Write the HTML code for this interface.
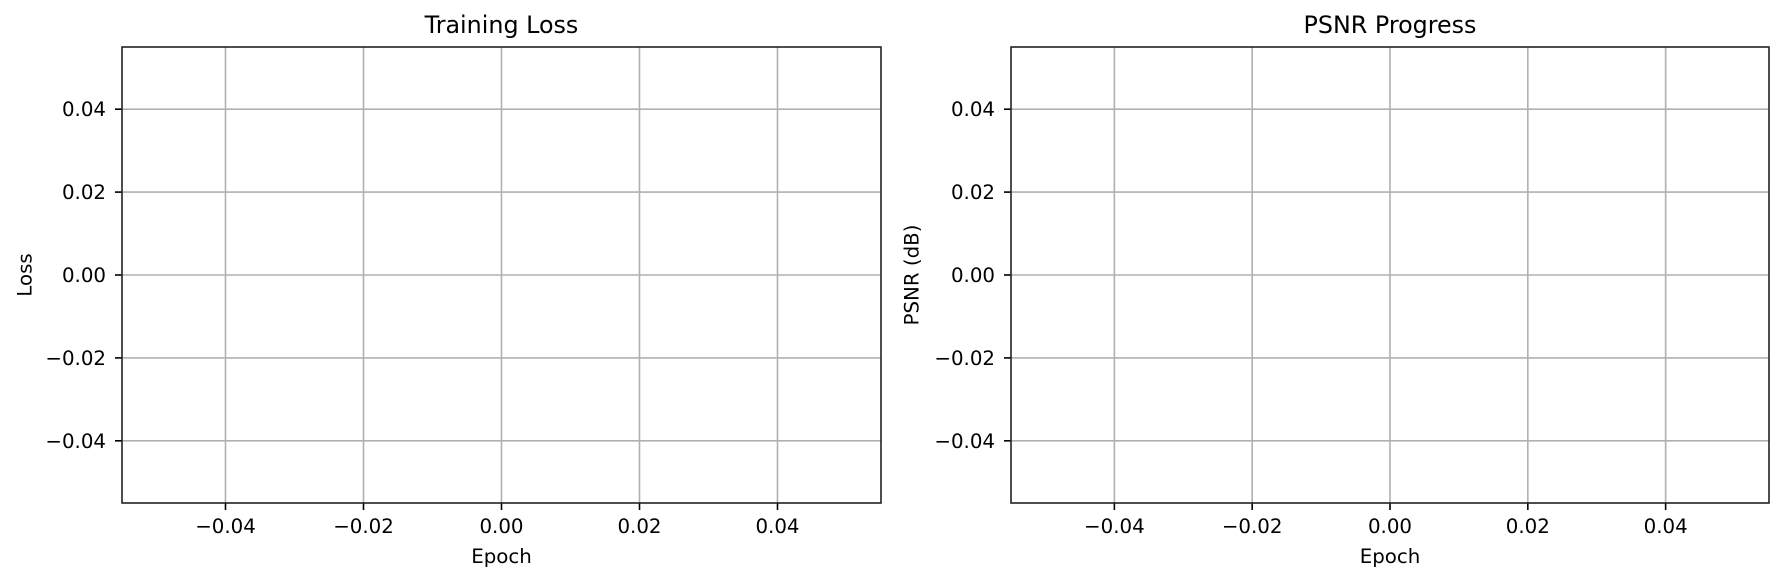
<!DOCTYPE html>
<html><head><meta charset="utf-8"><style>
html,body{margin:0;padding:0;background:#fff;}
svg{display:block;font-family:"DejaVu Sans","Liberation Sans",sans-serif;}
</style></head><body>
<svg id="fig" width="1784" height="581" viewBox="0 0 1784 581" xmlns="http://www.w3.org/2000/svg"></svg>
<script>
const xTicks = [-0.04, -0.02, 0.00, 0.02, 0.04];
const yTicks = [-0.04, -0.02, 0.00, 0.02, 0.04];
const xDomain = [-0.055, 0.055];
const yDomain = [-0.055, 0.055];
const panelTitles = ["Training Loss", "PSNR Progress"];
const panelYLabels = ["Loss", "PSNR (dB)"];
const panelXLabels = ["Epoch", "Epoch"];
const panelNames = ["loss", "psnr"];

const NS = "http://www.w3.org/2000/svg";
const svg = document.getElementById('fig');
const panels = [{l:122,r:881,t:47,b:503,yl:25},{l:1011,r:1769,t:47,b:503,yl:912}];
function mk(tag, attrs, parent){const e=document.createElementNS(NS,tag);for(const k in attrs)e.setAttribute(k,attrs[k]);(parent||svg).appendChild(e);return e;}
function fmt(v){const s=Math.abs(v).toFixed(2);return (v<-1e-9?'\u2212':'')+s;}

panels.forEach((p,i)=>{
  const g=mk('g',{});
  
  
  const sx=v=>p.l+(v-xDomain[0])/(xDomain[1]-xDomain[0])*(p.r-p.l);
  const sy=v=>p.b-(v-yDomain[0])/(yDomain[1]-yDomain[0])*(p.b-p.t);
  xTicks.forEach(v=>{
    const x=sx(v);
    const gl=mk('line',{x1:x,x2:x,y1:p.t,y2:p.b,stroke:'#b0b0b0','stroke-width':1.6},g);
    
    
    mk('line',{x1:x,x2:x,y1:p.b,y2:p.b+7,stroke:'#000','stroke-width':1.6},g);
    const t=mk('text',{x:x,y:p.b+30,'text-anchor':'middle','font-size':19.8,fill:'#000'},g);
    t.textContent=fmt(v);
    
    
  });
  yTicks.forEach(v=>{
    const y=sy(v);
    const gl=mk('line',{x1:p.l,x2:p.r,y1:y,y2:y,stroke:'#b0b0b0','stroke-width':1.6},g);
    
    
    mk('line',{x1:p.l-7,x2:p.l,y1:y,y2:y,stroke:'#000','stroke-width':1.6},g);
    const t=mk('text',{x:p.l-16,y:y+7,'text-anchor':'end','font-size':19.8,fill:'#000'},g);
    t.textContent=fmt(v);
    
    
  });
  const fr=mk('rect',{x:p.l,y:p.t,width:p.r-p.l,height:p.b-p.t,fill:'none',stroke:'#222','stroke-width':1.6},g);
  
  
  const cx=(p.l+p.r)/2;
  const tt=mk('text',{x:cx,y:33,'text-anchor':'middle','font-size':23.8,fill:'#000'},g);
  tt.textContent=panelTitles[i];
  
  
  const xl=mk('text',{x:cx,y:563,'text-anchor':'middle','font-size':19.8,fill:'#000'},g);
  xl.textContent=panelXLabels[i];
  
  
  const cy=(p.t+p.b)/2;
  const yl=mk('text',{x:p.yl,y:cy,'text-anchor':'middle','dominant-baseline':'central','font-size':19.8,fill:'#000',transform:`rotate(-90 ${p.yl} ${cy})`},g);
  yl.textContent=panelYLabels[i];
  
  
});
</script>
</body></html>
